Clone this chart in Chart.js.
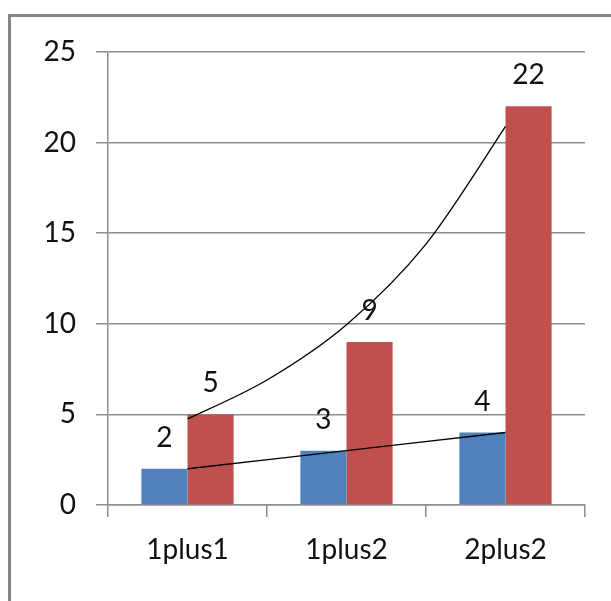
<!DOCTYPE html>
<html>
<head>
<meta charset="utf-8">
<script src="https://cdn.jsdelivr.net/npm/chart.js@4/dist/chart.umd.min.js"></script>
<style>
  html, body { margin: 0; padding: 0; background: #fff; overflow: hidden; }
  #wrap { position: relative; width: 611px; height: 601px; }
  #frame {
    position: absolute; left: 8px; top: 14px; width: 800px; height: 800px;
    border-left: 3px solid #858585; border-top: 3px solid #858585;
  }
  #chart { position: absolute; left: 0; top: 0; }
</style>
</head>
<body>
<div id="wrap">
  <div id="frame"></div>
  <canvas id="chart" width="611" height="601"></canvas>
</div>
<script>
// ---- data ----
const categories = ['1plus1', '1plus2', '2plus2'];
const blueValues = [2, 3, 4];
const redValues = [5, 9, 22];
const yTicks = [0, 5, 10, 15, 20, 25];

// trendlines (positions are category index)
const blueTrendX = [0, 1, 2];
const blueTrendY = [2, 3, 4];
const redTrendX = [0, 0.5, 1, 1.5, 2];
const redTrendY = [4.75, 6.9, 9.95, 14.4, 20.9];

const FONT = 'Lato';
const GRID = '#8c8c8c';

// value labels above each bar
const barLabels = {
  id: 'barLabels',
  afterDatasetsDraw(chart) {
    const ctx = chart.ctx;
    ctx.save();
    ctx.font = '28px ' + FONT;
    ctx.fillStyle = '#111';
    ctx.textAlign = 'center';
    ctx.textBaseline = 'middle';
    chart.data.datasets.forEach((ds, di) => {
      const meta = chart.getDatasetMeta(di);
      meta.data.forEach((bar, i) => {
        ctx.fillText(String(ds.data[i]), bar.x, bar.y - 31);
      });
    });
    ctx.restore();
  }
};

// trendlines, mapped through the chart's own x / y scales
function drawTrend(chart, xs, ys) {
  const sx = chart.scales.x, sy = chart.scales.y;
  const pts = xs.map((x, i) => ({ x: sx.getPixelForValue(x), y: sy.getPixelForValue(ys[i]) }));
  const ctx = chart.ctx;
  ctx.beginPath();
  ctx.moveTo(pts[0].x, pts[0].y);
  for (let i = 0; i < pts.length - 1; i++) {
    const p0 = pts[i - 1] || pts[i];
    const p1 = pts[i];
    const p2 = pts[i + 1];
    const p3 = pts[i + 2] || p2;
    ctx.bezierCurveTo(
      p1.x + (p2.x - p0.x) / 6, p1.y + (p2.y - p0.y) / 6,
      p2.x - (p3.x - p1.x) / 6, p2.y - (p3.y - p1.y) / 6,
      p2.x, p2.y
    );
  }
  ctx.stroke();
}

const trendLines = {
  id: 'trendLines',
  afterDatasetsDraw(chart) {
    const ctx = chart.ctx;
    ctx.save();
    ctx.strokeStyle = '#000';
    ctx.lineWidth = 1.3;
    drawTrend(chart, blueTrendX, blueTrendY);
    drawTrend(chart, redTrendX, redTrendY);
    ctx.restore();
  }
};

new Chart(document.getElementById('chart'), {
  type: 'bar',
  data: {
    labels: categories,
    datasets: [
      { data: blueValues, backgroundColor: '#4F81BD', borderWidth: 0 },
      { data: redValues, backgroundColor: '#C0504D', borderWidth: 0 }
    ]
  },
  options: {
    responsive: false,
    animation: false,
    categoryPercentage: 0.58,
    barPercentage: 1,
    layout: { padding: { left: 0, right: 26, top: 52, bottom: 0 } },
    plugins: { legend: { display: false }, tooltip: { enabled: false } },
    scales: {
      x: {
        grid: { offset: true, drawOnChartArea: false, tickLength: 12, color: GRID, lineWidth: 1.5 },
        border: { color: GRID, width: 1.5 },
        ticks: { font: { family: FONT, size: 28 }, color: '#111', padding: 16, maxRotation: 0 },
        afterFit(s) { s.height = 96; }
      },
      y: {
        min: 0, max: 25,
        afterBuildTicks(s) { s.ticks = yTicks.map(v => ({ value: v })); },
        grid: { tickLength: 12, color: GRID, lineWidth: 1.5 },
        border: { color: GRID, width: 1.5 },
        ticks: { font: { family: FONT, size: 28 }, color: '#111', padding: 20 },
        afterFit(s) { s.width = 108; }
      }
    }
  },
  plugins: [trendLines, barLabels]
});
</script>
</body>
</html>
